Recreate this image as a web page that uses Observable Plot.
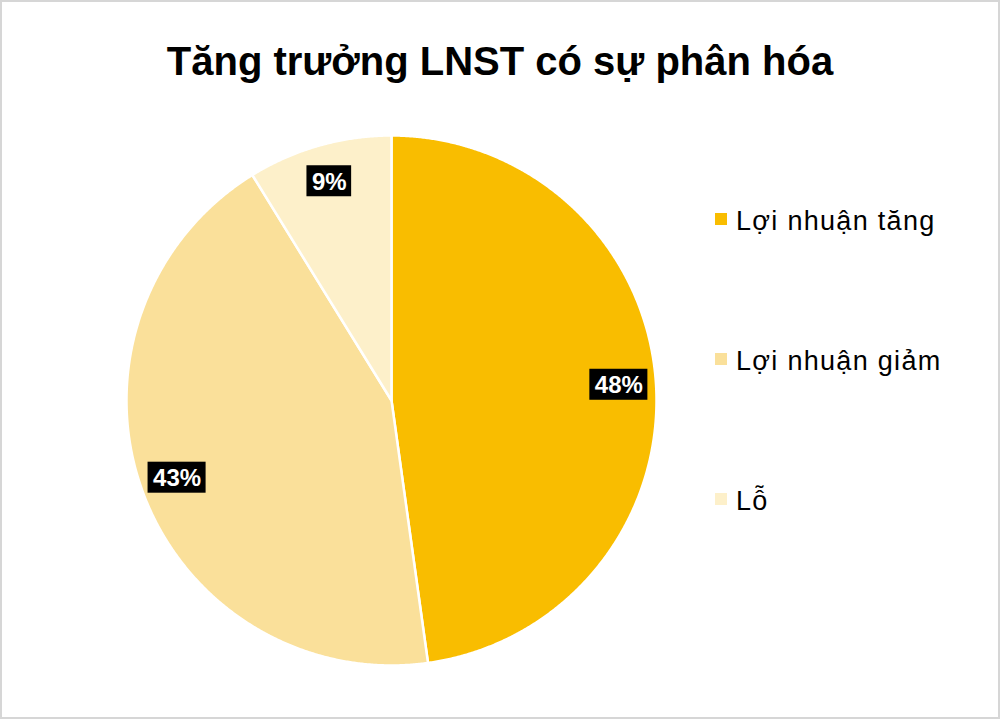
<!DOCTYPE html>
<html><head><meta charset="utf-8">
<script src="https://cdn.jsdelivr.net/npm/d3@7"></script>
<script src="https://cdn.jsdelivr.net/npm/@observablehq/plot@0.6"></script>
<style>
body{margin:0;background:#fff;}
#wrap{position:relative;width:1000px;height:719px;overflow:hidden;font-family:"Liberation Sans",Arial,sans-serif;background:#fff;}
#frame{position:absolute;left:0;top:0;width:1000px;height:719px;border:2px solid #d6d6d6;box-sizing:border-box;pointer-events:none;}
#title{height:110px;position:relative;}
#title div{position:absolute;top:41px;left:0;width:1000px;text-align:center;font-weight:bold;font-size:40px;line-height:40px;color:#000;}
.sw{position:absolute;width:12px;height:12px;}
.lt{position:absolute;font-size:27px;line-height:27px;letter-spacing:1.3px;color:#000;white-space:nowrap;}
#chart svg{display:block;}
</style>
</head><body>
<div id="wrap">
  <div id="title"><div>Tăng trưởng LNST có sự phân hóa</div></div>
  <div id="chart"></div>
  <div id="legend"></div>
  <div id="frame"></div>
</div>
<script>
const categories = ["Lợi nhuận tăng", "Lợi nhuận giảm", "Lỗ"];
const shares = [47.8, 43.4, 8.8];
const labels = ["48%", "43%", "9%"];
const colors = ["#F9BD00", "#FAE09A", "#FDF0CA"];

const R = 265;          // pie radius in px
const CX = 391, CY = 290; // pie centre inside the svg
const W = 1000, H = 609;

const arcs = d3.pie().sort(null).value(d => d)(shares);

// slice outlines
const pts = [];
arcs.forEach((a, i) => {
  const cat = categories[i];
  pts.push({cat, x: 0, y: 0});
  const n = Math.max(2, Math.ceil((a.endAngle - a.startAngle) / 0.005));
  for (let k = 0; k <= n; k++) {
    const t = a.startAngle + (a.endAngle - a.startAngle) * k / n;
    pts.push({cat, x: Math.sin(t), y: Math.cos(t)});
  }
});

// label positions
const ctx = document.createElement("canvas").getContext("2d");
ctx.font = "bold 24px 'Liberation Sans'";
const lab = arcs.map((a, i) => {
  const m = (a.startAngle + a.endAngle) / 2;
  const r = 0.86;
  const w = ctx.measureText(labels[i]).width + 10;
  const x = r * Math.sin(m), y = r * Math.cos(m);
  return {label: labels[i], x, y, x1: x - w / 2 / R, x2: x + w / 2 / R, y1: y - 15.5 / R, y2: y + 15.5 / R};
});

const chart = Plot.plot({
  width: W, height: H,
  marginTop: 0, marginRight: 0, marginBottom: 0, marginLeft: 0,
  x: {domain: [-CX / R, (W - CX) / R], axis: null},
  y: {domain: [-(H - CY) / R, CY / R], axis: null},
  color: {type: "ordinal", domain: categories, range: colors},
  style: {background: "transparent", overflow: "visible"},
  marks: [
    Plot.line(pts, {x: "x", y: "y", z: "cat", fill: "cat", stroke: "white", strokeWidth: 2.5, strokeLinejoin: "round", curve: "linear-closed"}),
    Plot.rect(lab, {x1: "x1", x2: "x2", y1: "y1", y2: "y2", fill: "#000"}),
    Plot.text(lab, {x: "x", y: "y", text: "label", fill: "white", fontSize: 24, fontWeight: "bold", fontFamily: "Liberation Sans, Arial, sans-serif", dy: 1})
  ]
});
document.getElementById("chart").appendChild(chart);

// legend
const legendRows = [219, 359, 499];
const leg = document.getElementById("legend");
categories.forEach((c, i) => {
  const s = document.createElement("div");
  s.className = "sw";
  s.style.left = "715px";
  s.style.top = (legendRows[i] - 6) + "px";
  s.style.background = colors[i];
  leg.appendChild(s);
  const t = document.createElement("div");
  t.className = "lt";
  t.style.left = "736px";
  t.style.top = (legendRows[i] + 12 - 23) + "px";
  t.textContent = c;
  leg.appendChild(t);
});
</script>
</body></html>
